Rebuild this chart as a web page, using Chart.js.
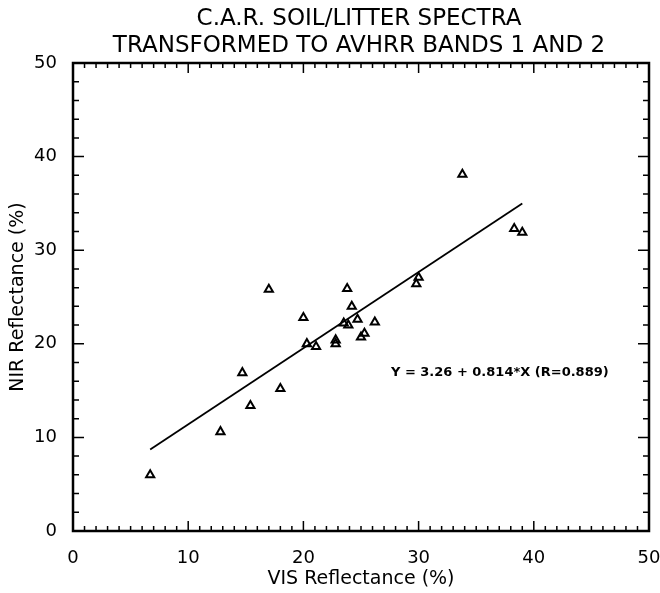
<!DOCTYPE html>
<html>
<head>
<meta charset="utf-8">
<script src="https://cdn.jsdelivr.net/npm/chart.js@4"></script>
<style>
  html, body { margin:0; padding:0; background:#fff; }
  #wrap { width:660px; height:593px; position:relative; }
</style>
</head>
<body>
<div id="wrap"><canvas id="c" width="660" height="593"></canvas></div>
<script>
// Soil / litter spectra, VIS vs NIR reflectance (%)
const visRefl = [6.7, 12.8, 14.7, 15.4, 17.0, 18.0, 20.0, 20.3, 21.1, 22.8, 22.8, 23.5, 23.8, 23.9,
                 24.2, 24.7, 25.0, 25.3, 26.2, 29.8, 30.0, 33.8, 38.3, 39.0];
const nirRefl = [6.0, 10.6, 16.9, 13.4, 25.8, 15.2, 22.8, 20.0, 19.7, 20.4, 20.0, 22.2, 25.9, 22.0,
                 24.0, 22.6, 20.7, 21.1, 22.3, 26.4, 27.1, 38.1, 32.3, 31.9];

// regression line end points
const fitX = [6.7, 39.0];
const fitY = [8.71, 35.0];
const fitLabel = 'Y = 3.26 + 0.814*X (R=0.889)';

const titleLines = ['C.A.R. SOIL/LITTER SPECTRA', 'TRANSFORMED TO AVHRR BANDS 1 AND 2'];
const xTicks = [0, 10, 20, 30, 40, 50];
const yTicks = [0, 10, 20, 30, 40, 50];

const FONT = 'DejaVu Sans';

// frame + inward ticks on all four sides, title over the plot, fit label
const frameTicks = {
  id: 'frameTicks',
  afterDraw(chart) {
    const { ctx, chartArea: a, scales: { x, y } } = chart;
    ctx.save();
    ctx.strokeStyle = '#000';
    ctx.lineWidth = 2.5;
    ctx.strokeRect(a.left, a.top, a.right - a.left, a.bottom - a.top);
    ctx.lineWidth = 1.5;
    ctx.beginPath();
    for (let v = 0; v <= 50; v += 1) {
      const px = x.getPixelForValue(v);
      const len = v % 10 === 0 ? 10 : 5;
      ctx.moveTo(px, a.bottom); ctx.lineTo(px, a.bottom - len);
      ctx.moveTo(px, a.top); ctx.lineTo(px, a.top + len);
    }
    for (let v = 0; v <= 50; v += 2) {
      const py = y.getPixelForValue(v);
      const len = v % 10 === 0 ? 11 : 6;
      ctx.moveTo(a.left, py); ctx.lineTo(a.left + len, py);
      ctx.moveTo(a.right, py); ctx.lineTo(a.right - len, py);
    }
    ctx.stroke();

    ctx.fillStyle = '#000';
    ctx.textBaseline = 'middle';
    ctx.font = 'bold 13px ' + FONT;
    ctx.fillText(fitLabel, x.getPixelForValue(27.6), y.getPixelForValue(16.9));

    ctx.textAlign = 'center';
    ctx.font = '23px ' + FONT;
    const cx = (a.left + a.right) / 2 - 2;
    ctx.fillText(titleLines[0], cx, 19);
    ctx.fillText(titleLines[1], cx, 46);
    ctx.restore();
  }
};

new Chart(document.getElementById('c'), {
  type: 'scatter',
  data: {
    datasets: [
      {
        data: visRefl.map((v, i) => ({ x: v, y: nirRefl[i] })),
        pointStyle: 'triangle',
        pointRadius: 4.7,
        borderColor: '#000',
        backgroundColor: 'rgba(0,0,0,0)',
        borderWidth: 2
      },
      {
        type: 'line',
        data: fitX.map((v, i) => ({ x: v, y: fitY[i] })),
        borderColor: '#000',
        borderWidth: 1.8,
        pointRadius: 0,
        fill: false
      }
    ]
  },
  plugins: [frameTicks],
  options: {
    responsive: false,
    animation: false,
    events: [],
    layout: { padding: { left: 0, right: 11, top: 63, bottom: 0 } },
    plugins: {
      legend: { display: false },
      tooltip: { enabled: false },
      title: { display: false }
    },
    scales: {
      x: {
        type: 'linear', min: 0, max: 50,
        afterFit: s => { s.height = 62; s.paddingLeft = 0; s.paddingRight = 0; },
        afterBuildTicks: s => { s.ticks = xTicks.map(v => ({ value: v })); },
        grid: { display: false },
        border: { display: false },
        ticks: { color: '#000', font: { family: FONT, size: 18 }, padding: 9, maxRotation: 0 },
        title: { display: true, text: 'VIS Reflectance (%)', color: '#000',
                 font: { family: FONT, size: 19 }, padding: { top: 0, bottom: 3 } }
      },
      y: {
        type: 'linear', min: 0, max: 50,
        afterFit: s => { s.width = 73; },
        afterBuildTicks: s => { s.ticks = yTicks.map(v => ({ value: v })); },
        grid: { display: false },
        border: { display: false },
        ticks: { color: '#000', font: { family: FONT, size: 18 }, padding: 8 },
        title: { display: true, text: 'NIR Reflectance (%)', color: '#000',
                 font: { family: FONT, size: 19 }, padding: { top: 7, bottom: 0 } }
      }
    }
  }
});
</script>
</body>
</html>
